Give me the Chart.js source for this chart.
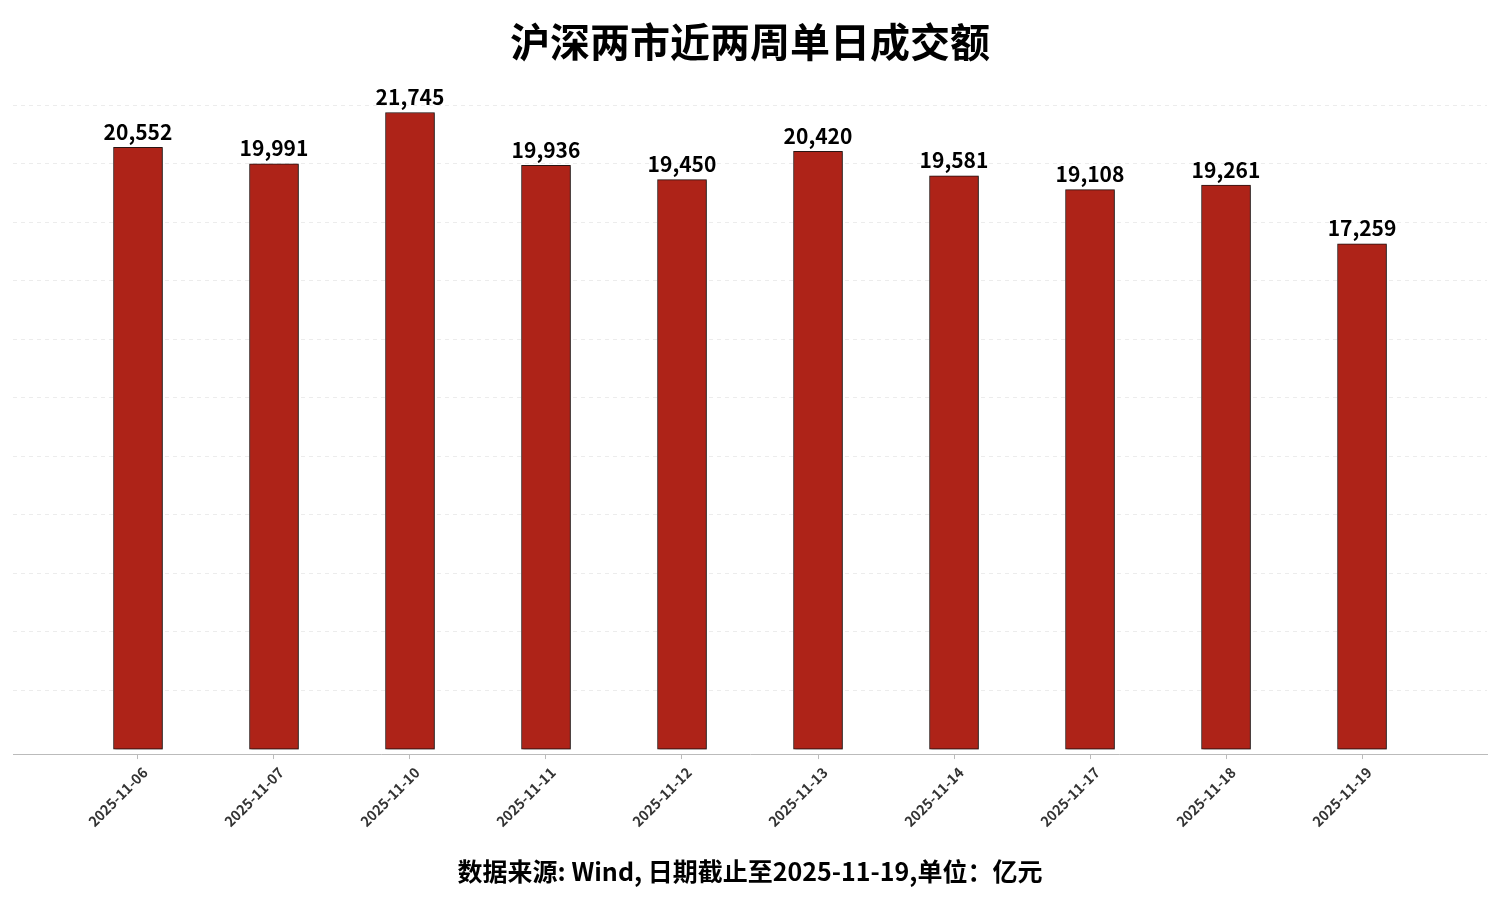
<!DOCTYPE html>
<html lang="zh">
<head>
<meta charset="UTF-8">
<title>沪深两市近两周单日成交额</title>
<script src="https://cdn.jsdelivr.net/npm/chart.js"></script>
<style>
  html, body { margin: 0; padding: 0; background: #fff; }
  canvas { display: block; }
</style>
</head>
<body>
<canvas id="turnover" width="1500" height="900"></canvas>
<script>
const dates = ['2025-11-06', '2025-11-07', '2025-11-10', '2025-11-11', '2025-11-12',
               '2025-11-13', '2025-11-14', '2025-11-17', '2025-11-18', '2025-11-19'];
const turnover = [20552, 19991, 21745, 19936, 19450, 20420, 19581, 19108, 19261, 17259];
// dashed grid lines (no line at zero)
const gridTicks = [2000, 4000, 6000, 8000, 10000, 12000, 14000, 16000, 18000, 20000, 22000];

const FONT = '"Noto Sans CJK SC", "Noto Sans", sans-serif';

// soft shadow to the right of each bar
const barShadow = {
  id: 'barShadow',
  beforeDatasetsDraw(chart) {
    const ctx = chart.ctx;
    ctx.save();
    ctx.shadowColor = 'rgba(0,0,0,0.35)';
    ctx.shadowOffsetX = 2;
    ctx.shadowOffsetY = 1;
    ctx.shadowBlur = 2;
  },
  afterDatasetsDraw(chart) {
    chart.ctx.restore();
  }
};

// value labels above the bars
const valueLabels = {
  id: 'valueLabels',
  afterDatasetsDraw(chart) {
    const ctx = chart.ctx;
    const meta = chart.getDatasetMeta(0);
    ctx.save();
    ctx.font = 'bold 21px ' + FONT;
    ctx.fillStyle = '#000';
    ctx.textAlign = 'center';
    ctx.textBaseline = 'bottom';
    meta.data.forEach((bar, i) => {
      ctx.fillText(turnover[i].toLocaleString('en-US'), bar.x, bar.y - 5);
    });
    ctx.restore();
  }
};

new Chart(document.getElementById('turnover'), {
  type: 'bar',
  data: {
    datasets: [{
      data: turnover.map((v, i) => ({ x: i, y: v })),
      backgroundColor: '#AE2318',
      borderColor: '#2b1614',
      borderWidth: 1,
      borderSkipped: false,
      barThickness: 49
    }]
  },
  options: {
    responsive: false,
    animation: false,
    devicePixelRatio: 1,
    layout: { padding: { left: 13, right: 13, top: 0, bottom: 0 } },
    plugins: {
      legend: { display: false },
      tooltip: { enabled: false },
      title: {
        display: true,
        text: '沪深两市近两周单日成交额',
        color: '#000',
        font: { family: FONT, size: 40, weight: 'bold' },
        padding: { top: 18, bottom: 39 }
      },
      subtitle: {
        display: true,
        position: 'bottom',
        text: '数据来源: Wind, 日期截止至2025-11-19,单位：亿元',
        color: '#000',
        font: { family: FONT, size: 25, weight: 'bold' },
        padding: { top: 21, bottom: 14 }
      }
    },
    scales: {
      x: {
        type: 'linear',
        offset: false,
        min: -0.919,
        max: 9.919,
        afterBuildTicks(axis) {
          axis.ticks = dates.map((d, i) => ({ value: i }));
        },
        ticks: {
          autoSkip: false,
          minRotation: 45,
          maxRotation: 45,
          color: '#333',
          font: { family: FONT, size: 14, weight: 'bold' },
          padding: 5,
          labelOffset: 7,
          callback: (v) => dates[v]
        },
        grid: {
          offset: false,
          drawOnChartArea: false,
          drawTicks: true,
          tickLength: 5,
          color: '#bbbbbb'
        },
        border: { display: true, color: '#bbbbbb', width: 1 }
      },
      y: {
        min: -170,
        max: 22000,
        afterBuildTicks(axis) {
          axis.ticks = gridTicks.map(v => ({ value: v }));
        },
        ticks: { display: false },
        grid: { color: '#ececec', drawTicks: false, lineWidth: 1 },
        border: { display: false, dash: [4, 4] }
      }
    }
  },
  plugins: [barShadow, valueLabels]
});
</script>
</body>
</html>
